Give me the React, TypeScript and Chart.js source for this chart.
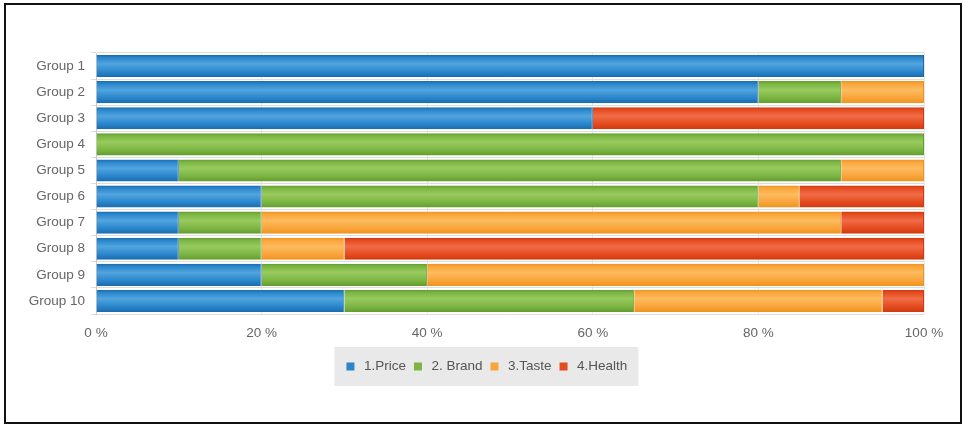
import React, { useEffect, useRef } from "react";
import { Chart, registerables } from "chart.js";

Chart.register(...registerables);

const categories = ["Group 1", "Group 2", "Group 3", "Group 4", "Group 5", "Group 6", "Group 7", "Group 8", "Group 9", "Group 10"];
const seriesNames = ["1.Price", "2. Brand", "3.Taste", "4.Health"];
const price = [100, 80, 60, 0, 10, 20, 10, 10, 20, 30];
const brand = [0, 10, 0, 100, 80, 60, 10, 10, 20, 35];
const taste = [0, 10, 0, 0, 10, 5, 70, 10, 60, 30];
const health = [0, 0, 40, 0, 0, 15, 10, 70, 0, 5];
const xTickValues = [0, 20, 40, 60, 80, 100];
const xTickLabels = ["0 %", "20 %", "40 %", "60 %", "80 %", "100 %"];

const palette = [
  { solid: "#2a86cc", light: "#52a5de", dark: "#1a6cae" },
  { solid: "#7cb543", light: "#98cb5e", dark: "#639d2e" },
  { solid: "#f9a53b", light: "#fdbb5e", dark: "#ef941e" },
  { solid: "#e54b1f", light: "#f06c47", dark: "#cf3a10" },
];

const FONT = "'Liberation Sans', Arial, sans-serif";

export default function App() {
  const ref = useRef<HTMLCanvasElement | null>(null);

  useEffect(() => {
    if (!ref.current) return;
    const seriesValues = [price, brand, taste, health];

    const makeBg = (p: { solid: string; light: string; dark: string }) => (ctx: any) => {
      const chart = ctx.chart;
      const y = chart.scales && chart.scales.y;
      if (ctx.type !== "data" || !y) return p.solid;
      const c = y.getPixelForValue(ctx.dataIndex);
      const h = 11;
      if (!isFinite(c)) return p.solid;
      const g = chart.ctx.createLinearGradient(0, c - h, 0, c + h);
      g.addColorStop(0, p.dark);
      g.addColorStop(0.12, p.solid);
      g.addColorStop(0.4, p.light);
      g.addColorStop(0.75, p.solid);
      g.addColorStop(1, p.dark);
      return g;
    };

    const legendBg = {
      id: "legendBg",
      afterLayout(chart: any) {
        const lg = chart.legend;
        if (lg) {
          lg.left += 23.5;
          lg.right += 23.5;
        }
      },
      beforeDraw(chart: any) {
        const lg = chart.legend;
        if (!lg || !lg.legendHitBoxes || !lg.legendHitBoxes.length) return;
        const hb = lg.legendHitBoxes;
        const first = hb[0];
        const last = hb[hb.length - 1];
        const cy = first.top + first.height / 2;
        const left = first.left + 2.75 - 12;
        const right = last.left + last.width + 11;
        const c = chart.ctx;
        c.save();
        c.fillStyle = "#e9e9e9";
        c.fillRect(left, cy - 19.5, right - left, 39);
        c.restore();
      },
    };

    const chart = new Chart(ref.current, {
      type: "bar",
      data: {
        labels: categories,
        datasets: seriesNames.map((name, i) => ({
          label: name,
          data: seriesValues[i],
          backgroundColor: makeBg(palette[i]),
          borderColor: palette[i].dark,
          borderWidth: { top: 0, bottom: 0, left: 0, right: 1 },
          borderSkipped: false,
          barPercentage: 0.845,
          categoryPercentage: 1,
        })),
      },
      options: {
        indexAxis: "y",
        responsive: false,
        animation: false,
        layout: { padding: { top: 53, left: 0, right: 39, bottom: 42.75 } },
        scales: {
          x: {
            stacked: true,
            min: 0,
            max: 100,
            afterFit: (s: any) => {
              s.height = 40.5;
            },
            ticks: {
              stepSize: 20,
              color: "#666",
              padding: 11,
              font: { family: FONT, size: 13.5 },
              callback: (v: any) => {
                const k = xTickValues.indexOf(Number(v));
                return k >= 0 ? xTickLabels[k] : "";
              },
            },
            grid: { color: "#e6e6e6", drawTicks: false },
            border: { display: false },
          },
          y: {
            stacked: true,
            afterFit: (s: any) => {
              s.width = 96;
            },
            ticks: {
              color: "#666",
              padding: 6,
              font: { family: FONT, size: 13.5 },
            },
            grid: { color: "#dddddd", tickLength: 5, offset: true },
            border: { display: true, color: "#cccccc" },
          },
        },
        plugins: {
          tooltip: { enabled: false },
          legend: {
            position: "bottom",
            labels: {
              usePointStyle: true,
              pointStyle: "rect",
              boxWidth: 13.5,
              boxHeight: 8,
              padding: 5.25,
              color: "#555",
              font: { family: FONT, size: 13.5 },
              generateLabels: (ch: any) => {
                const items = Chart.defaults.plugins.legend.labels.generateLabels(ch);
                return items.map((it: any, i: number) => ({
                  ...it,
                  fillStyle: palette[i].solid,
                  strokeStyle: palette[i].solid,
                  lineWidth: 0,
                  pointStyle: "rect",
                }));
              },
            },
          },
        },
      },
      plugins: [legendBg],
    } as any);

    return () => chart.destroy();
  }, []);

  return (
    <div style={{ position: "absolute", left: 0, top: 0, width: 963, height: 426, background: "#fff" }}>
      <canvas ref={ref} width={963} height={426} style={{ position: "absolute", left: 0, top: 0, width: 963, height: 426 }} />
      <div
        style={{
          position: "absolute",
          left: 4,
          top: 3,
          width: 958,
          height: 421,
          boxSizing: "border-box",
          border: "2px solid #111",
          pointerEvents: "none",
        }}
      />
    </div>
  );
}
